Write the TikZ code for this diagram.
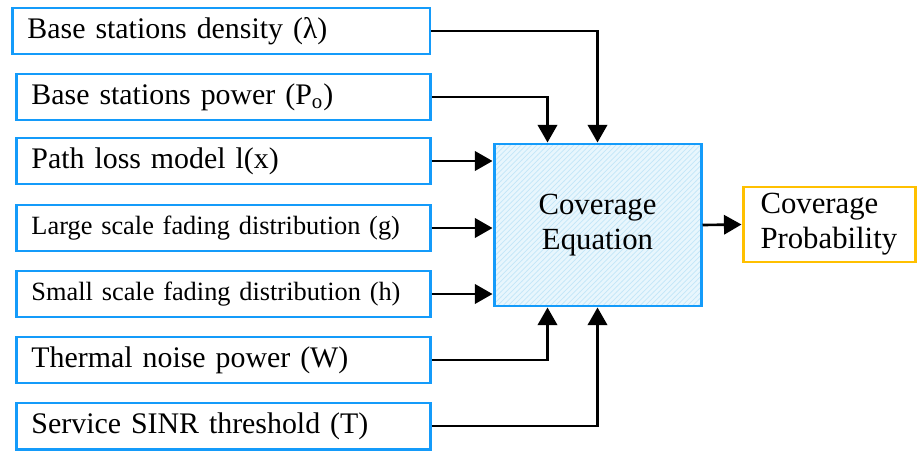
\documentclass[tikz,border=0pt]{standalone}
\usepackage{fontspec}
\setmainfont{Liberation Serif}
\usepackage{tikz}
\usetikzlibrary{positioning,arrows.meta,calc,patterns}
\definecolor{boxblue}{RGB}{20,155,250}
\definecolor{boxorange}{RGB}{255,192,0}
\definecolor{eqfill}{RGB}{232,246,253}
\definecolor{eqhatch}{RGB}{195,230,248}
\tikzset{>={Triangle[length=10pt,width=11pt]}}
\tikzset{inbox/.style={draw=boxblue,line width=1.7pt,anchor=west,minimum height=0.92cm,
	text width=7.75cm,align=left,inner xsep=0.3cm,font=\fontsize{17}{19}\selectfont}}
\tikzset{link/.style={->,line width=1.5pt}}
\newcommand{\drawinput}{\node[inbox]}
\newcommand{\drawsmall}{\node[inbox,font=\fontsize{15}{17}\selectfont]}

\begin{document}
\begin{tikzpicture}[scale=1]
	\useasboundingbox (0,0) rectangle (18.34,9);
	
	\drawinput (dens) at (0.22,8.38) {Base stations density (λ)};
	\drawinput[text width=7.68cm] (pow) at (0.30,7.06) {Base stations power (P\textsubscript{o})};
	\drawinput[text width=7.68cm] (loss) at (0.30,5.78) {Path loss model l(x)};
	\drawsmall[text width=7.68cm] (large) at (0.30,4.44) {Large scale fading distribution (g)};
	\drawsmall[text width=7.68cm] (small) at (0.30,3.12) {Small scale fading distribution (h)};
	\drawinput[text width=7.68cm] (noise) at (0.30,1.80) {Thermal noise power (W)};
	\drawinput[text width=7.68cm] (sinr) at (0.30,0.48) {Service SINR threshold (T)};
	
	\node[draw=boxblue,line width=1.7pt,minimum width=4.14cm,minimum height=3.24cm,
		preaction={fill=eqfill},pattern=north east lines,pattern color=eqhatch,
		align=center,font=\fontsize{17.5}{20}\selectfont] (eq) at (11.95,4.5) {Coverage\\Equation};
	\node[draw=boxorange,line width=1.7pt,minimum width=3.44cm,minimum height=1.5cm,
		text width=2.74cm,inner xsep=0.35cm,align=left,
		font=\fontsize{17.5}{20}\selectfont] (prob) at (16.58,4.51) {Coverage\\Probability};
	
	%top and bottom inputs
	\draw[link] (dens.east) -| (eq.north);
	\draw[link] (pow.east) -| ([xshift=-1cm]eq.north);
	\draw[link] (noise.east) -| ([xshift=-1cm]eq.south);
	\draw[link] (sinr.east) -| (eq.south);
	%side inputs
	\draw[link] (loss.east) -- (loss.east -| eq.west);
	\draw[link] (large.east) -- (large.east -| eq.west);
	\draw[link] (small.east) -- (small.east -| eq.west);
	
	\draw[link] (eq.east) -- (prob.west);
	
\end{tikzpicture}
\end{document}
